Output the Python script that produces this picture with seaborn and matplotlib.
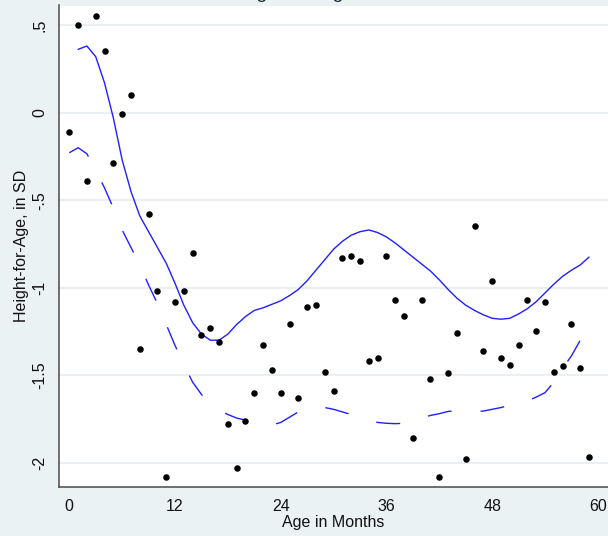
import matplotlib
matplotlib.use("Agg")
import matplotlib.pyplot as plt
import seaborn as sns
import pandas as pd

# Mean height-for-age z-score by age in months
months = list(range(60))
haz_mean = [
    -0.11, 0.50, -0.39, 0.55, 0.35, -0.29, -0.01, 0.10, -1.35, -0.58,
    -1.02, -2.08, -1.08, -1.02, -0.80, -1.27, -1.23, -1.31, -1.78, -2.03,
    -1.76, -1.60, -1.33, -1.47, -1.60, -1.21, -1.63, -1.11, -1.10, -1.48,
    -1.59, -0.83, -0.82, -0.85, -1.42, -1.40, -0.82, -1.07, -1.16, -1.86,
    -1.07, -1.52, -2.08, -1.49, -1.26, -1.98, -0.65, -1.36, -0.96, -1.40,
    -1.44, -1.33, -1.07, -1.25, -1.08, -1.48, -1.45, -1.21, -1.46, -1.97,
]

# Smoothed curves (solid and dashed)
solid_months = list(range(1, 60))
solid_fit = [
    0.362, 0.381, 0.32, 0.17, -0.03, -0.27, -0.45, -0.59, -0.68, -0.77,
    -0.86, -0.975, -1.10, -1.20, -1.265, -1.30, -1.30, -1.265, -1.21, -1.165,
    -1.13, -1.115, -1.095, -1.075, -1.045, -1.01, -0.96, -0.90, -0.84, -0.78,
    -0.735, -0.70, -0.68, -0.67, -0.685, -0.71, -0.745, -0.785, -0.825, -0.865,
    -0.905, -0.955, -1.01, -1.06, -1.10, -1.13, -1.155, -1.175, -1.18, -1.175,
    -1.15, -1.12, -1.08, -1.03, -0.98, -0.935, -0.90, -0.87, -0.825,
]
dashed_months = list(range(0, 59))
dashed_fit = [
    -0.229, -0.20, -0.235, -0.33, -0.43, -0.545, -0.67, -0.77, -0.87, -0.985,
    -1.09, -1.21, -1.33, -1.44, -1.54, -1.61, -1.665, -1.70, -1.725, -1.745,
    -1.757, -1.775, -1.785, -1.785, -1.77, -1.74, -1.71, -1.69, -1.685, -1.685,
    -1.695, -1.71, -1.725, -1.745, -1.76, -1.77, -1.775, -1.777, -1.775, -1.765,
    -1.745, -1.73, -1.72, -1.707, -1.705, -1.705, -1.707, -1.705, -1.695, -1.685,
    -1.672, -1.66, -1.648, -1.625, -1.60, -1.54, -1.46, -1.39, -1.30,
]

x_ticks = [0, 12, 24, 36, 48, 60]
y_ticks = [-2, -1.5, -1, -0.5, 0, 0.5]
y_tick_labels = ["-2", "-1.5", "-1", "-.5", "0", ".5"]

points = pd.DataFrame({"age": months, "haz": haz_mean})
solid = pd.DataFrame({"age": solid_months, "haz": solid_fit})
dashed = pd.DataFrame({"age": dashed_months, "haz": dashed_fit})

BG = "#EAF2F3"
GRID = "#E6EEF0"
BLUE = "#1F1FFF"
AXIS = "#4A4A4A"
TEXT = "#111111"

sns.set_theme(style="white")
plt.rcParams["font.family"] = ["Liberation Sans", "DejaVu Sans"]
plt.rcParams["lines.scale_dashes"] = False

fig = plt.figure(figsize=(6.08, 5.36), dpi=100, facecolor=BG)
ax = fig.add_axes([59 / 608, 49 / 536, 549 / 608, 481.5 / 536])
ax.set_facecolor("white")

sns.lineplot(data=solid, x="age", y="haz", ax=ax, color=BLUE, lw=1.0,
             sort=True, estimator=None)
sns.lineplot(data=dashed, x="age", y="haz", ax=ax, color=BLUE, lw=1.0,
             sort=True, estimator=None, linestyle=(0, (17.3, 20.9)))
sns.scatterplot(data=points, x="age", y="haz", ax=ax, color="black",
                s=22, linewidth=0, zorder=3)

ax.set_xlim(-1.17, 61.15)
ax.set_ylim(-2.139, 0.6126)
ax.set_xticks(x_ticks)
ax.set_xticklabels([str(t) for t in x_ticks])
ax.set_yticks(y_ticks)
ax.set_yticklabels(y_tick_labels, rotation=90, va="center")

ax.yaxis.grid(True, color=GRID, lw=1.2)
ax.xaxis.grid(False)
ax.set_axisbelow(True)

for side in ("top", "right"):
    ax.spines[side].set_visible(False)
for side in ("left", "bottom"):
    ax.spines[side].set_color(AXIS)
    ax.spines[side].set_linewidth(1.1)

ax.tick_params(axis="both", which="major", direction="out", length=4.5,
               width=1.0, color=AXIS, labelsize=11.5, labelcolor=TEXT, pad=4)

ax.set_xlabel("Age in Months", fontsize=11.5, color=TEXT, labelpad=1)
ax.set_ylabel("Height-for-Age, in SD", fontsize=11.5, color=TEXT, labelpad=2)

fig.text(0.478, 1 + 1.5 / 536, "Height-for-Age", ha="center", va="baseline",
         fontsize=14, color="#1E2A3A")

fig.savefig("out.png", dpi=100, facecolor=BG)
